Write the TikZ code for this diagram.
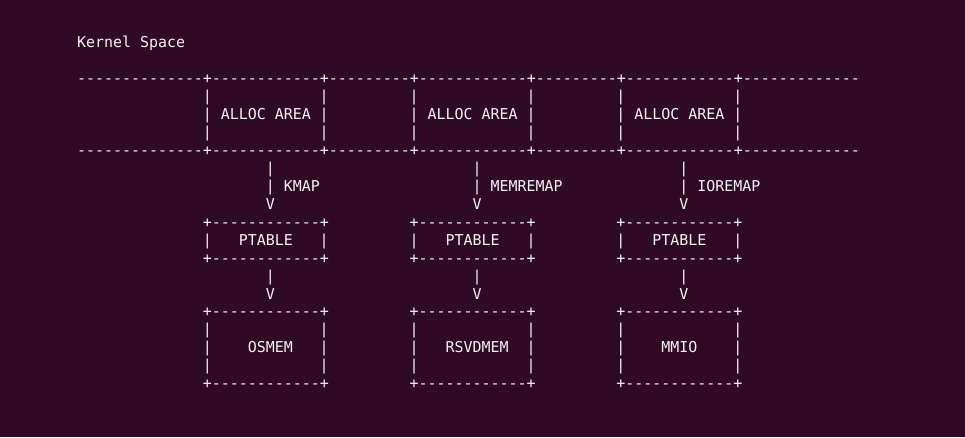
\documentclass[tikz,border=0pt]{standalone}
\usepackage{fontspec}
\setmonofont{DejaVu Sans Mono}
\definecolor{bg}{HTML}{300A24}
\definecolor{fg}{HTML}{F4F4F4}
\tikzset{tt/.style={anchor=base west, inner sep=0pt, outer sep=0pt, text=fg,
  font=\ttfamily\fontsize{14.95pt}{18pt}\selectfont}}
\newcommand\ch[4]{\node[tt] (#1) at ({77pt+(#3)*8.99pt},{-47.7pt-(#2)*17.95pt}) {#4};}
\begin{document}
\begin{tikzpicture}
\fill[bg] (0,0) rectangle (965pt,-437pt);
\useasboundingbox (0,0) rectangle (965pt,-437pt);
\ch{title}{0}{0}{Kernel Space}
\ch{topline}{2}{0}{--------------+------------+---------+------------+---------+------------+-------------}
\ch{midline}{6}{0}{--------------+------------+---------+------------+---------+------------+-------------}
\foreach \k/\o/\lab/\mem/\mc in {a/0/KMAP/OSMEM/19, b/23/MEMREMAP/RSVDMEM/41, c/46/IOREMAP/MMIO/65}{
  % allocation area in kernel space
  \ch{aL3\k}{3}{14+\o}{|}
  \ch{aR3\k}{3}{27+\o}{|}
  \ch{aL4\k}{4}{14+\o}{|}
  \ch{area\k}{4}{16+\o}{ALLOC AREA}
  \ch{aR4\k}{4}{27+\o}{|}
  \ch{aL5\k}{5}{14+\o}{|}
  \ch{aR5\k}{5}{27+\o}{|}
  % mapping arrow
  \ch{m7\k}{7}{21+\o}{|}
  \ch{m8\k}{8}{21+\o}{|}
  \ch{map\k}{8}{23+\o}{\lab}
  \ch{m9\k}{9}{21+\o}{V}
  % page table box
  \ch{pt10\k}{10}{14+\o}{+------------+}
  \ch{ptL\k}{11}{14+\o}{|}
  \ch{ptable\k}{11}{18+\o}{PTABLE}
  \ch{ptR\k}{11}{27+\o}{|}
  \ch{pt12\k}{12}{14+\o}{+------------+}
  % arrow
  \ch{v13\k}{13}{21+\o}{|}
  \ch{v14\k}{14}{21+\o}{V}
  % memory box
  \ch{mb15\k}{15}{14+\o}{+------------+}
  \ch{mL16\k}{16}{14+\o}{|}
  \ch{mR16\k}{16}{27+\o}{|}
  \ch{mL17\k}{17}{14+\o}{|}
  \ch{mem\k}{17}{\mc}{\mem}
  \ch{mR17\k}{17}{27+\o}{|}
  \ch{mL18\k}{18}{14+\o}{|}
  \ch{mR18\k}{18}{27+\o}{|}
  \ch{mb19\k}{19}{14+\o}{+------------+}
}
\end{tikzpicture}
\end{document}
